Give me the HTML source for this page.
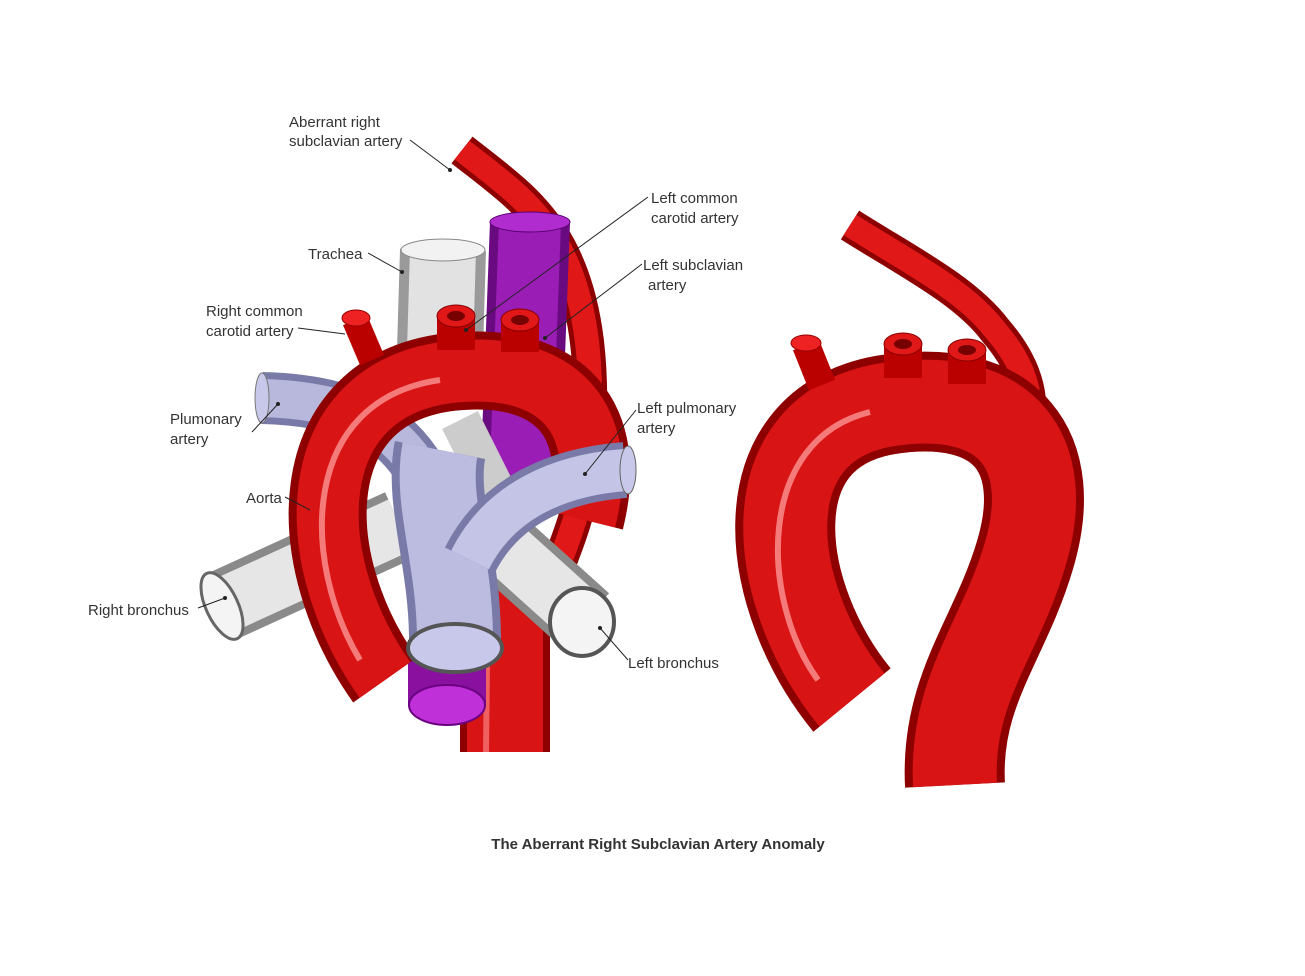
<!DOCTYPE html>
<html><head><meta charset="utf-8"><style>
html,body{margin:0;padding:0;background:#fff;}
svg{display:block;}
text{font-family:"Liberation Sans",sans-serif;font-size:15px;fill:#333;}
</style></head><body>
<svg width="1305" height="976" viewBox="0 0 1305 976" xmlns="http://www.w3.org/2000/svg">
<rect width="1305" height="976" fill="#fff"/>
<g fill="none" stroke-linecap="butt">
<!-- LEFT FIGURE -->
<path d="M462 150 C500 180 530 200 555 240 C585 290 595 360 588 450 C580 560 515 620 505 750" stroke="#8e0000" stroke-width="34"/>
<path d="M462 150 C500 180 530 200 555 240 C585 290 595 360 588 450 C580 560 515 620 505 750" stroke="#e01818" stroke-width="24"/>
<path d="M505 580 L505 752" stroke="#8e0000" stroke-width="90"/>
<path d="M505 580 L505 752" stroke="#d81414" stroke-width="76"/>
<path d="M488 580 L486 752" stroke="#f06060" stroke-width="6"/>
<path d="M530 222 L520 490" stroke="#6a0a80" stroke-width="80"/>
<path d="M530 222 L520 490" stroke="#9a1eb5" stroke-width="62"/>
<ellipse cx="530" cy="222" rx="40" ry="10" fill="#b02ccf" stroke="#5a0070"/>
<path d="M447 640 L447 705" stroke="#8a10a0" stroke-width="78"/>
<ellipse cx="447" cy="705" rx="38" ry="20" fill="#c030d8" stroke="#6a0080" stroke-width="2"/>
<path d="M443 250 L440 350" stroke="#9a9a9a" stroke-width="86"/>
<path d="M443 250 L440 350" stroke="#e2e2e2" stroke-width="66"/>
<ellipse cx="443" cy="250" rx="42" ry="11" fill="#f2f2f2" stroke="#888"/>
<path d="M460 420 L500 500" stroke="#ccc" stroke-width="40"/>
<path d="M225 605 L400 525" stroke="#8a8a8a" stroke-width="72"/>
<path d="M225 605 L400 525" stroke="#e6e6e6" stroke-width="56"/>
<ellipse cx="222" cy="606" rx="16" ry="36" transform="rotate(-25 222 606)" fill="#f4f4f4" stroke="#666" stroke-width="3"/>
<path d="M485 530 L585 620" stroke="#8a8a8a" stroke-width="72"/>
<path d="M485 530 L585 620" stroke="#e6e6e6" stroke-width="56"/>
<ellipse cx="582" cy="622" rx="32" ry="34" fill="#f4f4f4" stroke="#555" stroke-width="4"/>
<!-- left pulmonary branch behind arch -->
<path d="M262 398 C340 400 390 420 420 470" stroke="#7a7aa8" stroke-width="52"/>
<path d="M262 398 C340 400 390 420 420 470" stroke="#b8b8dc" stroke-width="38"/>
<ellipse cx="262" cy="398" rx="7" ry="25" fill="#c8c8ea" stroke="#777"/>
<!-- aortic arch -->
<path d="M385 680 C300 560 300 390 450 372 C560 360 610 420 585 520" stroke="#8e0000" stroke-width="78"/>
<path d="M385 680 C300 560 300 390 450 372 C560 360 610 420 585 520" stroke="#d81414" stroke-width="62"/>
<path d="M360 660 C300 560 300 400 440 380" stroke="#f57a7a" stroke-width="6"/>
<path d="M355 320 L372 360" stroke="#b00" stroke-width="26"/>
<ellipse cx="356" cy="318" rx="14" ry="8" fill="#e22" stroke="#900"/>
<path d="M456 318 L456 350" stroke="#b00" stroke-width="38"/>
<ellipse cx="456" cy="316" rx="19" ry="11" fill="#e01818" stroke="#800"/>
<ellipse cx="456" cy="316" rx="9" ry="5" fill="#700"/>
<path d="M520 322 L520 352" stroke="#b00" stroke-width="38"/>
<ellipse cx="520" cy="320" rx="19" ry="11" fill="#e01818" stroke="#800"/>
<ellipse cx="520" cy="320" rx="9" ry="5" fill="#700"/>
<!-- pulmonary trunk front -->
<path d="M455 640 C455 560 430 500 440 450" stroke="#7a7aa8" stroke-width="92"/>
<path d="M455 640 C455 560 430 500 440 450" stroke="#bcbce0" stroke-width="76"/>
<path d="M470 560 C500 500 560 475 625 470" stroke="#7a7aa8" stroke-width="56"/>
<path d="M470 560 C500 500 560 475 625 470" stroke="#c4c4e6" stroke-width="42"/>
<ellipse cx="628" cy="470" rx="8" ry="24" fill="#c8c8ea" stroke="#666"/>
<ellipse cx="455" cy="648" rx="47" ry="24" fill="#c8c8ea" stroke="#555" stroke-width="4"/>
<!-- RIGHT FIGURE -->
<path d="M850 225 C905 260 965 290 995 330 C1030 370 1035 405 1025 445" stroke="#8e0000" stroke-width="34"/>
<path d="M850 225 C905 260 965 290 995 330 C1030 370 1035 405 1025 445" stroke="#e01818" stroke-width="24"/>
<path d="M852 700 C770 600 745 430 885 405 C1010 385 1055 455 1025 555 C1000 640 950 690 955 785" stroke="#8e0000" stroke-width="100"/>
<path d="M852 700 C770 600 745 430 885 405 C1010 385 1055 455 1025 555 C1000 640 950 690 955 785" stroke="#d81414" stroke-width="84"/>
<path d="M818 680 C760 600 755 440 870 412" stroke="#f57a7a" stroke-width="6"/>
<path d="M806 345 L822 385" stroke="#b00" stroke-width="28"/>
<ellipse cx="806" cy="343" rx="15" ry="8" fill="#e22" stroke="#900"/>
<path d="M903 346 L903 378" stroke="#b00" stroke-width="38"/>
<ellipse cx="903" cy="344" rx="19" ry="11" fill="#e01818" stroke="#800"/>
<ellipse cx="903" cy="344" rx="9" ry="5" fill="#700"/>
<path d="M967 352 L967 384" stroke="#b00" stroke-width="38"/>
<ellipse cx="967" cy="350" rx="19" ry="11" fill="#e01818" stroke="#800"/>
<ellipse cx="967" cy="350" rx="9" ry="5" fill="#700"/>
</g>
<g stroke="#222" stroke-width="1" fill="none">
<path d="M410 140 L450 170"/>
<path d="M648 197 L466 330"/>
<path d="M642 264 L545 338"/>
<path d="M368 253 L402 272"/>
<path d="M298 328 L345 334"/>
<path d="M252 432 L278 404"/>
<path d="M285 497 L310 510"/>
<path d="M198 608 L225 598"/>
<path d="M628 660 L600 628"/>
<path d="M636 410 L585 474"/>
</g>
<g fill="#222">
<circle cx="450" cy="170" r="2"/><circle cx="466" cy="330" r="2"/><circle cx="545" cy="338" r="2"/>
<circle cx="402" cy="272" r="2"/><circle cx="278" cy="404" r="2"/><circle cx="225" cy="598" r="2"/>
<circle cx="600" cy="628" r="2"/><circle cx="585" cy="474" r="2"/>
</g>
<text x="289" y="127">Aberrant right</text>
<text x="289" y="146">subclavian artery</text>
<text x="651" y="203">Left common</text>
<text x="651" y="223">carotid artery</text>
<text x="308" y="259">Trachea</text>
<text x="643" y="270">Left subclavian</text>
<text x="648" y="290">artery</text>
<text x="206" y="316">Right common</text>
<text x="206" y="336">carotid artery</text>
<text x="170" y="424">Plumonary</text>
<text x="170" y="444">artery</text>
<text x="637" y="413">Left pulmonary</text>
<text x="637" y="433">artery</text>
<text x="246" y="503">Aorta</text>
<text x="88" y="615">Right bronchus</text>
<text x="628" y="668">Left bronchus</text>
<text x="658" y="849" text-anchor="middle" style="font-weight:bold;font-size:15px">The Aberrant Right Subclavian Artery Anomaly</text>
</svg>
</body></html>
